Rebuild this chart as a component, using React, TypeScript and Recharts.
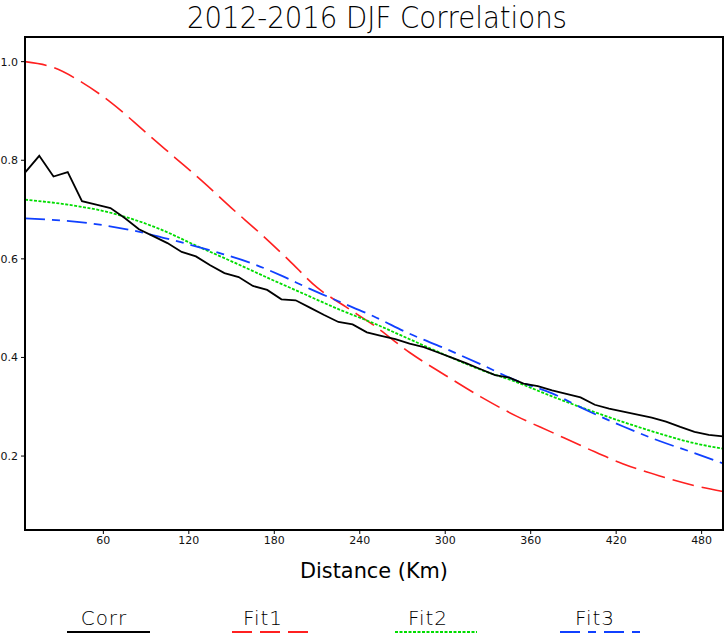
import { Line, LineChart, XAxis, YAxis } from 'recharts'

// sample distances (km) and correlations
const corrDist = [
  5, 15, 25, 35, 45, 55, 65, 75, 85, 95, 105, 115, 125, 135, 145, 155, 165, 175, 185, 195,
  205, 215, 225, 235, 245, 255, 265, 275, 285, 295, 305, 315, 325, 335, 345, 355, 365, 375,
  385, 395, 405, 415, 425, 435, 445, 455, 465, 475, 485, 495,
]
const corrValues = [
  0.775, 0.809, 0.767, 0.776, 0.717, 0.71, 0.703, 0.683, 0.66, 0.646, 0.632, 0.614, 0.605,
  0.587, 0.571, 0.563, 0.545, 0.537, 0.518, 0.516, 0.501, 0.486, 0.472, 0.467, 0.451, 0.444,
  0.437, 0.428, 0.421, 0.41, 0.399, 0.388, 0.376, 0.364, 0.359, 0.347, 0.342, 0.333, 0.326,
  0.319, 0.304, 0.296, 0.29, 0.284, 0.278, 0.27, 0.259, 0.249, 0.243, 0.24,
]

const fit1Dist = [5, 25, 45, 65, 90, 110, 130, 150, 170, 190, 210, 230, 250, 275, 300, 325, 350, 375, 400, 425, 450, 475, 495]
const fit1Values = [
  1.0, 0.988, 0.958, 0.918, 0.856, 0.806, 0.756, 0.703, 0.652, 0.598, 0.542, 0.503, 0.465,
  0.41, 0.364, 0.32, 0.281, 0.248, 0.215, 0.184, 0.16, 0.14, 0.128,
]

const fit2Dist = [5, 35, 60, 80, 100, 125, 150, 175, 200, 225, 250, 275, 300, 325, 350, 375, 400, 425, 450, 475, 495]
const fit2Values = [
  0.72, 0.71, 0.697, 0.681, 0.66, 0.627, 0.595, 0.562, 0.53, 0.498, 0.469, 0.437, 0.405,
  0.375, 0.35, 0.321, 0.294, 0.269, 0.246, 0.226, 0.215,
]

const fit3Dist = [5, 45, 80, 110, 140, 165, 185, 205, 225, 250, 275, 300, 325, 350, 375, 400, 425, 450, 475, 495]
const fit3Values = [
  0.682, 0.674, 0.658, 0.637, 0.613, 0.59, 0.566, 0.539, 0.514, 0.483, 0.448, 0.418, 0.386,
  0.353, 0.327, 0.292, 0.26, 0.231, 0.206, 0.185,
]

const xTicks = [60, 120, 180, 240, 300, 360, 420, 480]
const yTicks = [0.2, 0.4, 0.6, 0.8, 1.0]

const toRows = (dist: number[], values: number[]) => dist.map((d, i) => ({ d, r: values[i] }))

const corrData = toRows(corrDist, corrValues)
const fit1Data = toRows(fit1Dist, fit1Values)
const fit2Data = toRows(fit2Dist, fit2Values)
const fit3Data = toRows(fit3Dist, fit3Values)

const FONT = '"DejaVu Sans", sans-serif'

const legendItems = [
  { name: 'Corr', color: '#000000', dash: undefined, textX: 104, lineX: [67, 150] },
  { name: 'Fit1', color: '#ff2020', dash: '20 8', textX: 263, lineX: [232, 310] },
  { name: 'Fit2', color: '#00dd00', dash: '3 1.5', textX: 428, lineX: [395, 477] },
  { name: 'Fit3', color: '#1040ff', dash: '20 8 8 8', textX: 595, lineX: [560, 642] },
]

export default function App() {
  const tick = { fontSize: 11, fill: '#111', fontFamily: FONT }

  return (
    <div style={{ position: 'absolute', left: 0, top: 0, width: 726, height: 635, background: '#fff' }}>
      <LineChart width={726} height={635} margin={{ top: 37, right: 3, left: 0, bottom: 75 }}>
        <XAxis
          dataKey="d"
          type="number"
          domain={[5, 495]}
          ticks={xTicks}
          allowDuplicatedCategory={false}
          height={30}
          tick={tick}
          tickSize={4}
          tickMargin={2}
          axisLine={{ stroke: '#000', strokeWidth: 2 }}
          tickLine={{ stroke: '#000' }}
        />
        <YAxis
          type="number"
          domain={[0.05, 1.05]}
          ticks={yTicks}
          width={25}
          tick={tick}
          tickSize={4}
          tickMargin={3}
          tickFormatter={(v: number) => v.toFixed(1)}
          axisLine={{ stroke: '#000', strokeWidth: 2 }}
          tickLine={{ stroke: '#000' }}
        />
        <Line data={fit1Data} dataKey="r" type="monotone" stroke="#ff2020" strokeWidth={1.6} strokeDasharray="22 8" dot={false} isAnimationActive={false} />
        <Line data={fit2Data} dataKey="r" type="monotone" stroke="#00dd00" strokeWidth={1.8} strokeDasharray="3 1.5" dot={false} isAnimationActive={false} />
        <Line data={fit3Data} dataKey="r" type="monotone" stroke="#1040ff" strokeWidth={1.8} strokeDasharray="20 7 8 7" dot={false} isAnimationActive={false} />
        <Line data={corrData} dataKey="r" type="linear" stroke="#000" strokeWidth={1.8} dot={false} isAnimationActive={false} />
      </LineChart>

      <svg width={726} height={635} style={{ position: 'absolute', left: 0, top: 0, pointerEvents: 'none' }}>
        <rect x={25} y={37} width={698} height={493} fill="none" stroke="#000" strokeWidth={2} />
        <text x={377} y={28} textAnchor="middle" fontFamily={FONT} fontWeight={300} fontSize={30} textLength={380} lengthAdjust="spacingAndGlyphs">
          2012-2016 DJF Correlations
        </text>
        <text x={374} y={578} textAnchor="middle" fontFamily={FONT} fontSize={22} textLength={148} lengthAdjust="spacingAndGlyphs">
          Distance (Km)
        </text>
        {legendItems.map((item) => (
          <g key={item.name}>
            <text x={item.textX} y={625} textAnchor="middle" fontFamily={FONT} fontWeight={300} fontSize={20} letterSpacing={1}>
              {item.name}
            </text>
            <line
              x1={item.lineX[0]}
              x2={item.lineX[1]}
              y1={632}
              y2={632}
              stroke={item.color}
              strokeWidth={2}
              strokeDasharray={item.dash}
            />
          </g>
        ))}
      </svg>
    </div>
  )
}
